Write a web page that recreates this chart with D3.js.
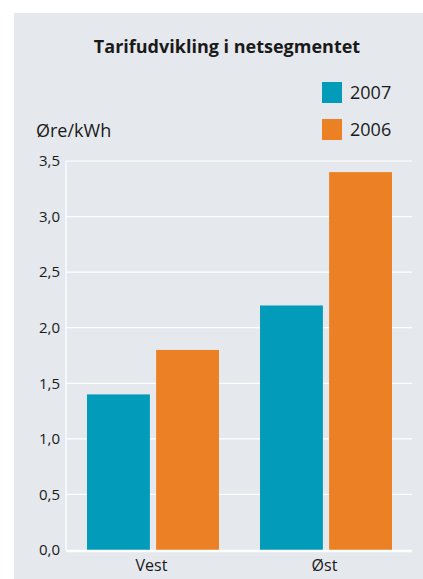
<!DOCTYPE html>
<html lang="da">
<head>
  <meta charset="UTF-8">
  <title>Tarifudvikling i netsegmentet</title>
  <script src="https://d3js.org/d3.v7.min.js"></script>
  <style>
    body { margin: 0; background: #fff; }
    svg { display: block; font-family: "Open Sans", "Noto Sans", sans-serif; }
  </style>
</head>
<body>
  <div id="chart"></div>
  <script>
    // Data
    const regions = ["Vest", "Øst"];
    const years = ["2007", "2006"];
    const values2007 = [1.4, 2.2];
    const values2006 = [1.8, 3.4];
    const yTicks = [0, 0.5, 1.0, 1.5, 2.0, 2.5, 3.0, 3.5];

    const colors = { "2007": "#029bb9", "2006": "#ec8024" };

    const width = 423, height = 579;
    const svg = d3.select("#chart").append("svg")
      .attr("width", width).attr("height", height);

    // grey panel
    svg.append("rect")
      .attr("x", 14).attr("y", 13)
      .attr("width", width - 14).attr("height", height - 13)
      .attr("fill", "#e5e9ed");

    const plot = { left: 66, right: 412, top: 161, bottom: 550 };

    const y = d3.scaleLinear().domain([0, 3.5]).range([plot.bottom, plot.top]);
    const x0 = d3.scaleBand().domain(regions).range([plot.left, plot.right]).padding(0);
    const x1 = d3.scaleBand().domain(years).range([21, 153]).paddingInner(0.09);

    // gridlines
    svg.append("g").selectAll("line")
      .data(yTicks.filter(d => d > 0))
      .enter().append("line")
      .attr("x1", plot.left).attr("x2", plot.right)
      .attr("y1", d => y(d)).attr("y2", d => y(d))
      .attr("stroke", "#fff").attr("stroke-width", 1.2);

    // y axis line
    svg.append("line")
      .attr("x1", plot.left).attr("x2", plot.left)
      .attr("y1", plot.top).attr("y2", plot.bottom)
      .attr("stroke", "#fff").attr("stroke-width", 1.2);

    // tick labels
    const fmt = d => d3.format(".1f")(d).replace(".", ",");
    svg.append("g").selectAll("text")
      .data(yTicks)
      .enter().append("text")
      .attr("x", 60)
      .attr("y", d => y(d))
      .attr("dy", "0.35em")
      .attr("text-anchor", "end")
      .attr("font-size", "15px")
      .attr("fill", "#1a1a1a")
      .text(fmt);

    // bars
    const rows = regions.map((r, i) => ({ region: r, "2007": values2007[i], "2006": values2006[i] }));
    svg.append("g").selectAll("g")
      .data(rows)
      .enter().append("g")
      .attr("transform", d => `translate(${x0(d.region)},0)`)
      .selectAll("rect")
      .data(d => years.map(k => ({ key: k, value: d[k] })))
      .enter().append("rect")
      .attr("x", d => x1(d.key))
      .attr("width", x1.bandwidth())
      .attr("y", d => y(d.value))
      .attr("height", d => y(0) - y(d.value))
      .attr("fill", d => colors[d.key]);

    // baseline
    svg.append("line")
      .attr("x1", plot.left).attr("x2", plot.right)
      .attr("y1", plot.bottom + 1).attr("y2", plot.bottom + 1)
      .attr("stroke", "#fff").attr("stroke-width", 2.5);

    // category labels
    svg.append("g").selectAll("text")
      .data(regions)
      .enter().append("text")
      .attr("x", d => x0(d) + x0.bandwidth() / 2 - 1)
      .attr("y", 571)
      .attr("text-anchor", "middle")
      .attr("font-size", "16px")
      .attr("fill", "#1a1a1a")
      .text(d => d);

    // title
    svg.append("text")
      .attr("x", 227).attr("y", 53)
      .attr("text-anchor", "middle")
      .attr("font-size", "18px")
      .attr("font-weight", "bold")
      .attr("fill", "#1a1a1a")
      .text("Tarifudvikling i netsegmentet");

    // unit label
    svg.append("text")
      .attr("x", 36).attr("y", 137)
      .attr("font-size", "18px")
      .attr("fill", "#1a1a1a")
      .text("Øre/kWh");

    // legend
    const legend = svg.append("g").selectAll("g")
      .data(years)
      .enter().append("g")
      .attr("transform", (d, i) => `translate(322,${82 + i * 37})`);
    legend.append("rect")
      .attr("width", 20).attr("height", 21)
      .attr("fill", d => colors[d]);
    legend.append("text")
      .attr("x", 28).attr("y", 17)
      .attr("font-size", "18px")
      .attr("fill", "#1a1a1a")
      .text(d => d);
  </script>
</body>
</html>
